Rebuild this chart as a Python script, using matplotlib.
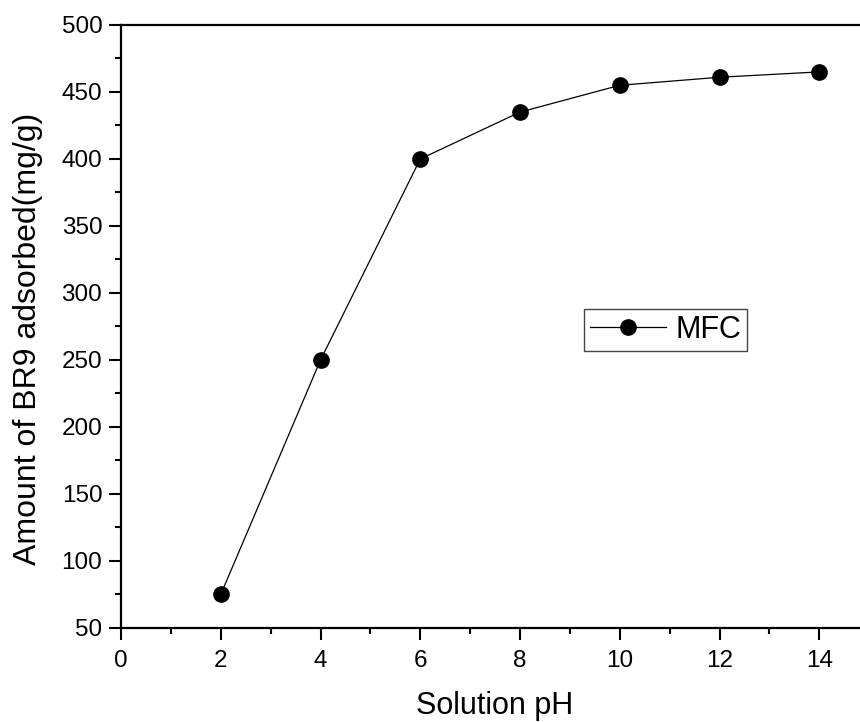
import matplotlib.pyplot as plt
from matplotlib.ticker import MultipleLocator

plt.rcParams['font.family'] = ['Liberation Sans', 'DejaVu Sans']

# data
ph = [2, 4, 6, 8, 10, 12, 14]
adsorbed = [75, 250, 400, 435, 455, 461, 465]

fig = plt.figure(figsize=(8.6, 7.22), dpi=100)
# axes runs past the right edge, as in the original (cropped) image
ax = fig.add_axes([0.1407, 0.1302, 0.87, 0.8352])

ax.plot(ph, adsorbed, '-', color='black', linewidth=0.9,
        marker='o', markersize=11, markerfacecolor='black',
        markeredgecolor='black', label='MFC')

ax.set_xlim(0, 15)
ax.set_ylim(50, 500)
ax.xaxis.set_major_locator(MultipleLocator(2))
ax.xaxis.set_minor_locator(MultipleLocator(1))
ax.yaxis.set_major_locator(MultipleLocator(50))
ax.yaxis.set_minor_locator(MultipleLocator(25))

ax.tick_params(which='major', direction='out', length=8.5, width=1.5,
               labelsize=17.5, pad=5)
ax.tick_params(axis='x', which='major', pad=7)
ax.tick_params(which='minor', direction='out', length=4.5, width=1.5)
for side in ['left', 'bottom', 'top']:
    ax.spines[side].set_linewidth(1.6)
ax.spines['right'].set_visible(False)

ax.set_xlabel('Solution pH', fontsize=22, labelpad=14)
ax.set_ylabel('Amount of BR9 adsorbed(mg/g)', fontsize=23)
ax.yaxis.set_label_coords(-0.104, 0.48)

leg = ax.legend(loc='center', bbox_to_anchor=(0.774, 0.543),
                bbox_transform=fig.transFigure, fontsize=22,
                fancybox=False, framealpha=1, edgecolor='#444444',
                handlelength=2.5, borderpad=0.2, handletextpad=0.3)
leg.get_frame().set_linewidth(1.0)

fig.savefig('out.png', dpi=100)
